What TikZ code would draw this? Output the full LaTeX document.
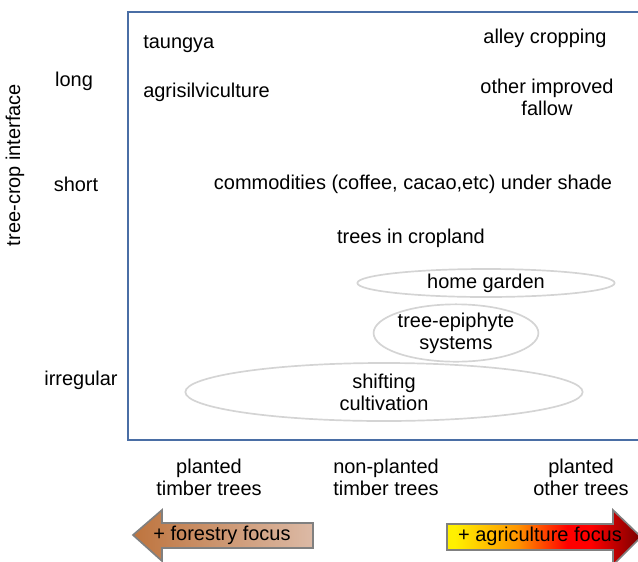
\documentclass[tikz,border=0pt]{standalone}
\usepackage{fontspec}
\setmainfont{Liberation Sans}
\usetikzlibrary{shapes.geometric}

\definecolor{framecol}{RGB}{74,110,165}
\definecolor{ovalgray}{RGB}{212,212,212}
\definecolor{forestA}{RGB}{190,116,62}
\definecolor{forestB}{RGB}{220,186,166}
\definecolor{agriA}{RGB}{255,240,0}
\definecolor{agriB}{RGB}{255,150,0}
\definecolor{agriC}{RGB}{255,0,0}
\definecolor{agriD}{RGB}{120,0,0}
\pgfdeclarehorizontalshading{agrishade}{100bp}{color(0bp)=(agriA); color(27bp)=(agriA);
  color(43bp)=(agriB); color(56bp)=(agriC); color(62bp)=(agriC); color(75bp)=(agriD); color(100bp)=(agriD)}

\begin{document}
\begin{tikzpicture}[x=0.025cm, y=-0.025cm,
    every node/.style={font=\fontsize{14.2}{15.6}\selectfont, align=center, inner sep=0pt},
    oval/.style={draw=ovalgray, line width=1.2pt, ellipse},
    arrowbox/.style={draw=gray, line width=1.2pt}]
  \useasboundingbox (0,0) rectangle (638,561);
  \clip (0,0) rectangle (638,561);

  % axes
  \draw [framecol, line width=1.5pt] (128,12) rectangle (660,440);
  \node (axis) [rotate=90] at (15,165) {tree-crop interface};
  \node (long) at (74,81) {long};
  \node (short) at (76,184) {short};
  \node (irreg) at (81,380) {irregular};

  \node (pt) at (209,477) {planted\\timber trees};
  \node (npt) at (386,477) {non-planted\\timber trees};
  \node (po) at (581,477) {planted\\other trees};

  % systems
  \node (taungya) [anchor=west] at (143,44) {taungya};
  \node (agrisilv) [anchor=west] at (143,92) {agrisilviculture};
  \node (alley) at (545,38) {alley cropping};
  \node (fallow) at (547,97) {other improved\\fallow};
  \node (commod) at (413,184) {commodities (coffee, cacao,etc) under shade};
  \node (cropland) at (411,238) {trees in cropland};
  \node (home) [oval, minimum width=6.43cm, minimum height=0.7cm] at (486,283) {home garden};
  \node (epiph) [oval, minimum width=4.1cm, minimum height=1.35cm] at (456,333) {tree-epiphyte\\systems};
  \node (shift) [oval, minimum width=9.93cm, minimum height=1.45cm] at (384,392) {shifting\\cultivation};

  % focus arrows
  \shade [arrowbox, left color=forestA, right color=forestB]
    (133,535) -- (162,510) -- (162,523) -- (313,523) -- (313,548) -- (162,548) -- (162,561) -- cycle;
  \node (forest) at (222,535) {+ forestry focus};
  \shade [arrowbox, shading=agrishade]
    (447,524) -- (613,524) -- (613,510) -- (641,537) -- (613,565) -- (613,550) -- (447,550) -- cycle;
  \node (agri) at (540,536) {+ agriculture focus};
\end{tikzpicture}
\end{document}
